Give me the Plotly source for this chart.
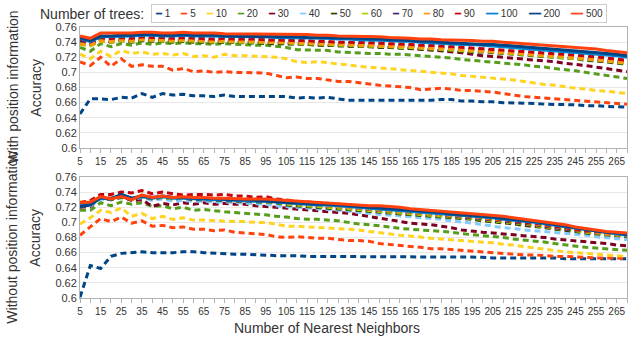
import plotly.graph_objects as go

# x categories: number of nearest neighbors
neighbors = list(range(5, 275, 5))
x_tick_vals = list(range(5, 270, 10))
x_tick_text = [str(v) for v in x_tick_vals]
y_tick_vals = [0.6, 0.62, 0.64, 0.66, 0.68, 0.7, 0.72, 0.74, 0.76]
y_tick_text = ["0.6", "0.62", "0.64", "0.66", "0.68", "0.7", "0.72", "0.74", "0.76"]

trees = ["1", "5", "10", "20", "30", "40", "50", "60", "70", "80", "90", "100", "200", "500"]
colors = ["#004586", "#ff420e", "#ffd320", "#579d1c", "#7e0021", "#83caff", "#314004",
          "#aecf00", "#4b1f6f", "#ff950e", "#c5000b", "#0084d1", "#004586", "#ff420e"]
solid = ["100", "200", "500"]

# ---- with position information ----
with_1 = [0.645, 0.665, 0.665, 0.664, 0.667, 0.666, 0.672, 0.667, 0.672, 0.670,
          0.671, 0.669, 0.669, 0.668, 0.670, 0.668, 0.668, 0.668, 0.668, 0.667,
          0.668, 0.666, 0.667, 0.666, 0.667, 0.665, 0.663, 0.663, 0.663, 0.662,
          0.662, 0.663, 0.662, 0.662, 0.663, 0.664, 0.664, 0.662, 0.662, 0.661,
          0.661, 0.660, 0.660, 0.659, 0.659, 0.658, 0.658, 0.657, 0.657, 0.656,
          0.656, 0.655, 0.655, 0.654]
with_5 = [0.714, 0.709, 0.720, 0.708, 0.718, 0.708, 0.710, 0.708, 0.708, 0.703,
          0.705, 0.701, 0.702, 0.700, 0.701, 0.700, 0.700, 0.699, 0.699, 0.696,
          0.693, 0.694, 0.692, 0.692, 0.690, 0.688, 0.688, 0.686, 0.685, 0.683,
          0.682, 0.681, 0.680, 0.677, 0.678, 0.679, 0.678, 0.676, 0.676, 0.675,
          0.674, 0.672, 0.670, 0.668, 0.667, 0.666, 0.665, 0.664, 0.663, 0.662,
          0.661, 0.660, 0.659, 0.658]
with_10 = [0.724, 0.718, 0.728, 0.721, 0.729, 0.725, 0.727, 0.724, 0.725, 0.723,
           0.725, 0.721, 0.722, 0.720, 0.724, 0.722, 0.722, 0.721, 0.721, 0.720,
           0.718, 0.714, 0.713, 0.714, 0.713, 0.711, 0.710, 0.708, 0.707, 0.706,
           0.705, 0.704, 0.703, 0.702, 0.701, 0.700, 0.698, 0.696, 0.695, 0.694,
           0.693, 0.692, 0.690, 0.688, 0.686, 0.684, 0.683, 0.681, 0.679, 0.678,
           0.676, 0.675, 0.673, 0.672]
with_20 = [0.733, 0.728, 0.738, 0.734, 0.738, 0.736, 0.739, 0.737, 0.739, 0.738,
           0.739, 0.738, 0.738, 0.737, 0.738, 0.737, 0.737, 0.736, 0.736, 0.735,
           0.733, 0.730, 0.730, 0.729, 0.729, 0.727, 0.726, 0.725, 0.725, 0.725,
           0.724, 0.724, 0.723, 0.722, 0.721, 0.720, 0.719, 0.717, 0.716, 0.715,
           0.714, 0.712, 0.711, 0.710, 0.708, 0.707, 0.705, 0.704, 0.702, 0.700,
           0.698, 0.696, 0.694, 0.692]
with_30 = [0.742, 0.738, 0.743, 0.740, 0.743, 0.741, 0.744, 0.742, 0.743, 0.741,
           0.742, 0.741, 0.741, 0.740, 0.741, 0.740, 0.740, 0.739, 0.739, 0.739,
           0.738, 0.738, 0.737, 0.737, 0.736, 0.736, 0.735, 0.735, 0.734, 0.734,
           0.733, 0.733, 0.732, 0.731, 0.730, 0.729, 0.728, 0.726, 0.724, 0.722,
           0.721, 0.720, 0.718, 0.717, 0.716, 0.715, 0.714, 0.712, 0.711, 0.709,
           0.707, 0.705, 0.703, 0.701]
with_40 = [0.739, 0.736, 0.742, 0.741, 0.743, 0.742, 0.744, 0.743, 0.743, 0.742,
           0.743, 0.742, 0.742, 0.741, 0.742, 0.741, 0.741, 0.741, 0.741, 0.740,
           0.740, 0.740, 0.739, 0.739, 0.738, 0.738, 0.737, 0.737, 0.736, 0.736,
           0.735, 0.735, 0.734, 0.734, 0.733, 0.732, 0.732, 0.731, 0.730, 0.729,
           0.728, 0.728, 0.727, 0.726, 0.725, 0.724, 0.723, 0.722, 0.721, 0.719,
           0.718, 0.716, 0.715, 0.713]
with_50 = [0.740, 0.737, 0.743, 0.740, 0.742, 0.740, 0.742, 0.741, 0.741, 0.740,
           0.741, 0.740, 0.740, 0.739, 0.740, 0.739, 0.739, 0.739, 0.738, 0.738,
           0.738, 0.737, 0.737, 0.736, 0.736, 0.735, 0.735, 0.734, 0.734, 0.733,
           0.733, 0.732, 0.732, 0.731, 0.730, 0.730, 0.729, 0.728, 0.727, 0.727,
           0.726, 0.725, 0.724, 0.723, 0.722, 0.721, 0.720, 0.719, 0.718, 0.716,
           0.715, 0.714, 0.712, 0.711]
with_60 = [0.737, 0.735, 0.741, 0.740, 0.742, 0.741, 0.743, 0.742, 0.742, 0.741,
           0.742, 0.741, 0.741, 0.740, 0.741, 0.740, 0.740, 0.740, 0.739, 0.739,
           0.739, 0.738, 0.738, 0.737, 0.737, 0.736, 0.736, 0.735, 0.735, 0.734,
           0.734, 0.733, 0.733, 0.732, 0.731, 0.731, 0.730, 0.729, 0.728, 0.728,
           0.727, 0.726, 0.725, 0.724, 0.723, 0.722, 0.721, 0.720, 0.719, 0.717,
           0.716, 0.715, 0.713, 0.712]
with_70 = [0.742, 0.739, 0.745, 0.744, 0.745, 0.744, 0.746, 0.745, 0.745, 0.744,
           0.745, 0.744, 0.744, 0.743, 0.744, 0.743, 0.743, 0.743, 0.742, 0.742,
           0.742, 0.741, 0.741, 0.740, 0.740, 0.739, 0.739, 0.738, 0.738, 0.737,
           0.737, 0.736, 0.735, 0.735, 0.734, 0.733, 0.733, 0.732, 0.731, 0.730,
           0.729, 0.728, 0.727, 0.726, 0.725, 0.724, 0.723, 0.722, 0.721, 0.720,
           0.718, 0.717, 0.715, 0.714]
with_80 = [0.738, 0.736, 0.742, 0.741, 0.743, 0.742, 0.744, 0.743, 0.743, 0.742,
           0.743, 0.742, 0.742, 0.741, 0.742, 0.741, 0.741, 0.741, 0.740, 0.740,
           0.740, 0.739, 0.739, 0.738, 0.738, 0.737, 0.737, 0.736, 0.736, 0.735,
           0.735, 0.734, 0.734, 0.733, 0.732, 0.732, 0.731, 0.730, 0.729, 0.729,
           0.728, 0.727, 0.726, 0.725, 0.724, 0.723, 0.722, 0.721, 0.720, 0.718,
           0.717, 0.716, 0.714, 0.713]
with_90 = [0.744, 0.741, 0.746, 0.745, 0.746, 0.745, 0.747, 0.746, 0.746, 0.745,
           0.746, 0.745, 0.745, 0.744, 0.745, 0.744, 0.744, 0.744, 0.743, 0.743,
           0.743, 0.742, 0.742, 0.741, 0.741, 0.740, 0.740, 0.740, 0.739, 0.739,
           0.738, 0.738, 0.737, 0.736, 0.736, 0.735, 0.734, 0.734, 0.733, 0.732,
           0.731, 0.730, 0.729, 0.728, 0.727, 0.726, 0.725, 0.724, 0.723, 0.722,
           0.721, 0.719, 0.717, 0.716]
with_100 = [0.745, 0.741, 0.747, 0.747, 0.748, 0.748, 0.749, 0.749, 0.748, 0.748,
            0.749, 0.748, 0.748, 0.748, 0.747, 0.747, 0.747, 0.747, 0.747, 0.746,
            0.746, 0.746, 0.745, 0.745, 0.745, 0.744, 0.744, 0.743, 0.743, 0.742,
            0.742, 0.741, 0.741, 0.740, 0.739, 0.739, 0.738, 0.737, 0.737, 0.736,
            0.735, 0.734, 0.733, 0.732, 0.731, 0.730, 0.729, 0.728, 0.727, 0.726,
            0.725, 0.723, 0.722, 0.720]
with_200 = [0.746, 0.742, 0.748, 0.748, 0.749, 0.749, 0.750, 0.750, 0.749, 0.749,
            0.750, 0.749, 0.749, 0.749, 0.748, 0.748, 0.748, 0.748, 0.748, 0.747,
            0.747, 0.747, 0.746, 0.746, 0.746, 0.745, 0.745, 0.745, 0.744, 0.744,
            0.743, 0.743, 0.742, 0.741, 0.741, 0.740, 0.739, 0.739, 0.738, 0.737,
            0.737, 0.736, 0.735, 0.734, 0.733, 0.732, 0.731, 0.730, 0.729, 0.728,
            0.727, 0.725, 0.724, 0.722]
with_500 = [0.748, 0.745, 0.752, 0.752, 0.752, 0.752, 0.753, 0.753, 0.752, 0.752,
            0.753, 0.752, 0.752, 0.752, 0.751, 0.751, 0.751, 0.751, 0.751, 0.750,
            0.750, 0.750, 0.750, 0.749, 0.749, 0.748, 0.748, 0.748, 0.747, 0.747,
            0.746, 0.746, 0.745, 0.744, 0.744, 0.743, 0.743, 0.742, 0.742, 0.741,
            0.741, 0.740, 0.739, 0.738, 0.737, 0.736, 0.735, 0.734, 0.733, 0.732,
            0.731, 0.729, 0.728, 0.726]

# ---- without position information ----
without_1 = [0.601, 0.643, 0.639, 0.655, 0.659, 0.660, 0.661, 0.660, 0.660, 0.660,
             0.661, 0.661, 0.660, 0.659, 0.659, 0.658, 0.658, 0.657, 0.657, 0.656,
             0.656, 0.656, 0.655, 0.655, 0.655, 0.655, 0.655, 0.655, 0.655, 0.655,
             0.655, 0.655, 0.654, 0.654, 0.654, 0.654, 0.654, 0.654, 0.654, 0.654,
             0.653, 0.653, 0.653, 0.653, 0.653, 0.653, 0.653, 0.652, 0.652, 0.652,
             0.652, 0.652, 0.652, 0.652]
without_5 = [0.683, 0.694, 0.705, 0.701, 0.707, 0.699, 0.702, 0.695, 0.696, 0.693,
             0.694, 0.691, 0.691, 0.689, 0.690, 0.687, 0.686, 0.685, 0.684, 0.681,
             0.680, 0.681, 0.680, 0.679, 0.679, 0.677, 0.676, 0.676, 0.675, 0.672,
             0.671, 0.670, 0.669, 0.667, 0.665, 0.665, 0.664, 0.663, 0.662, 0.661,
             0.660, 0.659, 0.658, 0.657, 0.657, 0.656, 0.655, 0.655, 0.654, 0.654,
             0.653, 0.653, 0.653, 0.652]
without_10 = [0.698, 0.706, 0.716, 0.713, 0.719, 0.708, 0.712, 0.705, 0.708, 0.704,
              0.706, 0.703, 0.703, 0.702, 0.702, 0.701, 0.701, 0.700, 0.700, 0.697,
              0.695, 0.695, 0.694, 0.693, 0.693, 0.692, 0.691, 0.690, 0.688, 0.686,
              0.685, 0.683, 0.682, 0.680, 0.679, 0.678, 0.677, 0.676, 0.675, 0.674,
              0.673, 0.671, 0.670, 0.668, 0.666, 0.664, 0.662, 0.661, 0.660, 0.659,
              0.658, 0.657, 0.656, 0.655]
without_20 = [0.716, 0.716, 0.726, 0.722, 0.727, 0.724, 0.726, 0.721, 0.722, 0.718,
              0.720, 0.716, 0.717, 0.715, 0.714, 0.713, 0.712, 0.711, 0.710, 0.708,
              0.707, 0.705, 0.704, 0.704, 0.703, 0.702, 0.700, 0.698, 0.697, 0.696,
              0.694, 0.692, 0.691, 0.690, 0.689, 0.688, 0.687, 0.685, 0.684, 0.682,
              0.681, 0.680, 0.678, 0.677, 0.675, 0.674, 0.672, 0.670, 0.669, 0.667,
              0.666, 0.665, 0.664, 0.663]
without_30 = [0.720, 0.721, 0.732, 0.730, 0.734, 0.729, 0.730, 0.721, 0.725, 0.723,
              0.726, 0.724, 0.726, 0.724, 0.725, 0.724, 0.724, 0.722, 0.721, 0.720,
              0.719, 0.718, 0.717, 0.715, 0.714, 0.713, 0.712, 0.710, 0.708, 0.705,
              0.703, 0.701, 0.699, 0.698, 0.697, 0.695, 0.693, 0.690, 0.688, 0.687,
              0.686, 0.685, 0.684, 0.683, 0.682, 0.680, 0.678, 0.677, 0.676, 0.674,
              0.673, 0.672, 0.670, 0.669]
without_40 = [0.722, 0.722, 0.731, 0.730, 0.734, 0.730, 0.733, 0.729, 0.731, 0.728,
              0.729, 0.728, 0.728, 0.727, 0.727, 0.726, 0.726, 0.725, 0.724, 0.722,
              0.721, 0.720, 0.719, 0.718, 0.717, 0.716, 0.715, 0.713, 0.712, 0.711,
              0.710, 0.709, 0.708, 0.706, 0.705, 0.704, 0.702, 0.701, 0.699, 0.697,
              0.695, 0.693, 0.692, 0.690, 0.689, 0.688, 0.687, 0.685, 0.684, 0.683,
              0.681, 0.680, 0.679, 0.677]
without_50 = [0.724, 0.724, 0.733, 0.730, 0.733, 0.730, 0.734, 0.731, 0.733, 0.731,
              0.732, 0.730, 0.730, 0.729, 0.729, 0.728, 0.728, 0.727, 0.727, 0.726,
              0.723, 0.722, 0.721, 0.720, 0.719, 0.718, 0.717, 0.716, 0.715, 0.714,
              0.713, 0.712, 0.711, 0.710, 0.709, 0.707, 0.706, 0.705, 0.704, 0.702,
              0.701, 0.699, 0.698, 0.696, 0.695, 0.693, 0.691, 0.690, 0.688, 0.686,
              0.685, 0.683, 0.682, 0.681]
without_60 = [0.725, 0.725, 0.733, 0.731, 0.734, 0.731, 0.734, 0.732, 0.733, 0.731,
              0.732, 0.731, 0.731, 0.730, 0.730, 0.729, 0.729, 0.728, 0.727, 0.727,
              0.724, 0.723, 0.722, 0.721, 0.720, 0.719, 0.718, 0.717, 0.716, 0.715,
              0.714, 0.713, 0.712, 0.711, 0.710, 0.709, 0.707, 0.706, 0.705, 0.704,
              0.702, 0.701, 0.699, 0.698, 0.696, 0.694, 0.692, 0.691, 0.689, 0.687,
              0.686, 0.684, 0.683, 0.682]
without_70 = [0.723, 0.725, 0.734, 0.732, 0.735, 0.731, 0.735, 0.732, 0.734, 0.732,
              0.733, 0.731, 0.731, 0.730, 0.730, 0.729, 0.729, 0.728, 0.728, 0.727,
              0.725, 0.724, 0.723, 0.722, 0.721, 0.720, 0.719, 0.718, 0.717, 0.716,
              0.715, 0.714, 0.713, 0.712, 0.711, 0.710, 0.708, 0.707, 0.706, 0.705,
              0.703, 0.702, 0.700, 0.699, 0.697, 0.695, 0.693, 0.691, 0.690, 0.688,
              0.686, 0.685, 0.684, 0.683]
without_80 = [0.727, 0.727, 0.735, 0.732, 0.735, 0.731, 0.736, 0.733, 0.735, 0.733,
              0.734, 0.732, 0.732, 0.731, 0.731, 0.730, 0.730, 0.729, 0.728, 0.728,
              0.726, 0.725, 0.724, 0.723, 0.722, 0.721, 0.720, 0.719, 0.718, 0.717,
              0.716, 0.715, 0.714, 0.713, 0.712, 0.711, 0.709, 0.708, 0.707, 0.706,
              0.704, 0.703, 0.701, 0.700, 0.698, 0.696, 0.694, 0.692, 0.690, 0.688,
              0.687, 0.685, 0.684, 0.683]
without_90 = [0.726, 0.729, 0.737, 0.737, 0.740, 0.739, 0.742, 0.738, 0.740, 0.738,
              0.736, 0.737, 0.737, 0.736, 0.737, 0.735, 0.735, 0.733, 0.734, 0.731,
              0.729, 0.728, 0.727, 0.726, 0.725, 0.724, 0.723, 0.722, 0.721, 0.719,
              0.718, 0.717, 0.715, 0.714, 0.713, 0.712, 0.710, 0.709, 0.708, 0.707,
              0.705, 0.704, 0.702, 0.700, 0.699, 0.697, 0.695, 0.693, 0.691, 0.689,
              0.688, 0.686, 0.685, 0.684]
without_100 = [0.722, 0.724, 0.732, 0.731, 0.736, 0.732, 0.734, 0.732, 0.734, 0.732,
               0.732, 0.731, 0.731, 0.730, 0.730, 0.729, 0.729, 0.728, 0.728, 0.727,
               0.726, 0.725, 0.724, 0.723, 0.723, 0.722, 0.721, 0.720, 0.719, 0.718,
               0.717, 0.716, 0.715, 0.714, 0.713, 0.712, 0.710, 0.709, 0.708, 0.707,
               0.706, 0.704, 0.703, 0.701, 0.700, 0.698, 0.696, 0.694, 0.692, 0.690,
               0.688, 0.686, 0.685, 0.683]
without_200 = [0.721, 0.723, 0.733, 0.731, 0.737, 0.732, 0.735, 0.733, 0.735, 0.733,
               0.733, 0.732, 0.732, 0.731, 0.731, 0.730, 0.730, 0.729, 0.729, 0.728,
               0.727, 0.726, 0.725, 0.724, 0.724, 0.723, 0.722, 0.721, 0.720, 0.719,
               0.718, 0.717, 0.716, 0.715, 0.714, 0.713, 0.711, 0.710, 0.709, 0.708,
               0.707, 0.705, 0.704, 0.702, 0.701, 0.699, 0.697, 0.695, 0.693, 0.691,
               0.689, 0.687, 0.686, 0.684]
without_500 = [0.726, 0.727, 0.734, 0.731, 0.734, 0.730, 0.736, 0.733, 0.735, 0.733,
               0.734, 0.733, 0.733, 0.732, 0.732, 0.731, 0.731, 0.731, 0.731, 0.730,
               0.729, 0.728, 0.727, 0.726, 0.726, 0.725, 0.724, 0.723, 0.722, 0.722,
               0.721, 0.720, 0.718, 0.717, 0.716, 0.715, 0.713, 0.712, 0.711, 0.710,
               0.709, 0.708, 0.706, 0.704, 0.703, 0.701, 0.699, 0.697, 0.694, 0.692,
               0.690, 0.688, 0.687, 0.686]

with_position = [with_1, with_5, with_10, with_20, with_30, with_40, with_50,
                 with_60, with_70, with_80, with_90, with_100, with_200, with_500]
without_position = [without_1, without_5, without_10, without_20, without_30,
                    without_40, without_50, without_60, without_70, without_80,
                    without_90, without_100, without_200, without_500]

FONT = "Liberation Sans, Arial, sans-serif"
GRID = "#e8e8e8"
AXIS = "#b3b3b3"
TXT = "#333333"

fig = go.Figure()
for panel, (xa, ya) in [(with_position, ("x", "y")), (without_position, ("x2", "y2"))]:
    for name, color, values in zip(trees, colors, panel):
        fig.add_trace(go.Scatter(
            x=neighbors, y=values, mode="lines", name=name,
            xaxis=xa, yaxis=ya, showlegend=False,
            line=dict(color=color, width=3,
                      dash="solid" if name in solid else "6px,4px"),
        ))

xaxis_style = dict(
    range=[5, 270], tickvals=x_tick_vals, ticktext=x_tick_text,
    ticks="outside", ticklen=4, tickcolor=AXIS,
    minor=dict(tick0=5, dtick=5, ticks="outside", ticklen=4, tickcolor=AXIS, showgrid=False),
    showgrid=False, showline=True, linecolor=AXIS, mirror=True, zeroline=False,
    tickfont=dict(family=FONT, size=10, color=TXT),
)
yaxis_style = dict(
    range=[0.6, 0.76], tickvals=y_tick_vals, ticktext=y_tick_text,
    showgrid=True, gridcolor=GRID, showline=True, linecolor=AXIS, mirror=True,
    zeroline=False, ticks="", tickfont=dict(family=FONT, size=11, color=TXT),
)

fig.update_layout(
    width=642, height=340,
    margin=dict(l=80, r=15, t=27, b=42),
    paper_bgcolor="white", plot_bgcolor="white",
    font=dict(family=FONT, color=TXT),
    xaxis=dict(domain=[0, 1], anchor="y", **xaxis_style),
    yaxis=dict(domain=[0.5535, 1], anchor="x", **yaxis_style),
    xaxis2=dict(domain=[0, 1], anchor="y2", **xaxis_style),
    yaxis2=dict(domain=[0, 0.4465], anchor="x2", **yaxis_style),
)

# axis titles
ann = []
for yc, side_text in [(0.7767, "With position information"), (0.2233, "Without position information")]:
    ann.append(dict(text="Accuracy", x=-0.082, y=yc, xref="paper", yref="paper",
                    xanchor="center", yanchor="middle", textangle=-90, showarrow=False,
                    font=dict(family=FONT, size=14, color=TXT)))
    ann.append(dict(text=side_text, x=-0.124, y=yc, xref="paper", yref="paper",
                    xanchor="center", yanchor="middle", textangle=-90, showarrow=False,
                    font=dict(family=FONT, size=14, color=TXT)))
ann.append(dict(text="Number of Nearest Neighbors", x=0.4516, y=-0.111,
                xref="paper", yref="paper", xanchor="center", yanchor="middle",
                showarrow=False, font=dict(family=FONT, size=14, color=TXT)))
ann.append(dict(text="Number of trees:", x=0.0219, y=1.0498, xref="paper", yref="paper",
                xanchor="center", yanchor="middle", showarrow=False,
                font=dict(family=FONT, size=14, color=TXT)))

# legend line in a bordered box
nb = "\u00a0"
entries = []
for name, color in zip(trees, colors):
    sym = "━━" if name in solid else "━"
    entries.append(f"<span style='color:{color}'>{sym}</span>{nb}{name}")
legend_text = (nb * 4).join(entries)
ann.append(dict(text=legend_text, x=0.1298, y=1.0498, xref="paper", yref="paper",
                xanchor="left", yanchor="middle", showarrow=False,
                bordercolor="#cccccc", borderwidth=1, borderpad=3, bgcolor="white",
                font=dict(family=FONT, size=10, color=TXT)))
fig.update_layout(annotations=ann)

fig.write_html("out.html", config={"displayModeBar": False},
               post_script="document.body.style.margin='0';")
